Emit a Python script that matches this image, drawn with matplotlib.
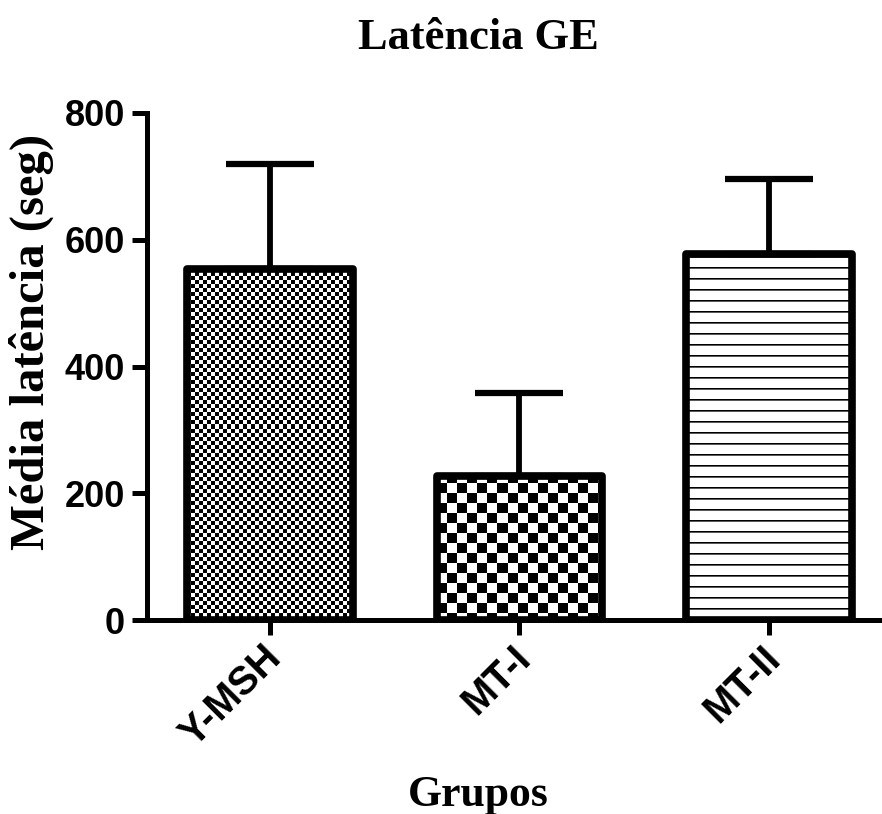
import matplotlib
matplotlib.use("Agg")
import matplotlib.pyplot as plt
from matplotlib.transforms import ScaledTranslation
import numpy as np

groups = ["Y-MSH", "MT-I", "MT-II"]
means = [554, 227, 577]
sem = [165, 131, 119]
yticks = [0, 200, 400, 600, 800]

SERIF = "Liberation Serif"
SANS = "Liberation Sans"


def checker(h, w, size):
    rows = (np.arange(h) // size)[:, None]
    cols = (np.arange(w) // size)[None, :]
    return ((rows + cols) % 2).astype(float)


def stripes(h, w, period):
    rows = np.arange(h) % period
    img = np.ones((h, w))
    img[rows == 0, :] = 0.0
    img[rows == 1, :] = 0.35
    return img


fig = plt.figure(figsize=(8.82, 8.14), dpi=100)
ax = fig.add_axes([0.1667, 0.2383, 0.831, 0.6229])

x = np.arange(len(groups))
ax.set_xlim(-0.493, 2.445)
ax.set_ylim(0, 800)

bars = ax.bar(x, means, width=0.665, facecolor="none", edgecolor="black",
              linewidth=5.5, joinstyle="round", zorder=3)

# fill textures, one image per bar clipped to its rectangle
bb = ax.get_window_extent()
h, w = int(round(bb.height)), int(round(bb.width))
textures = [checker(h, w, 4), checker(h, w, 10), stripes(h, w, 11)]
for bar, tex in zip(bars, textures):
    im = ax.imshow(tex, cmap="gray", vmin=0, vmax=1, interpolation="nearest",
                   extent=(*ax.get_xlim(), *ax.get_ylim()), aspect="auto",
                   origin="upper", zorder=2)
    im.set_clip_path(bar)

ax.errorbar(x, means, yerr=[np.zeros(len(sem)), sem], fmt="none",
            ecolor="black", elinewidth=4.2, capsize=32, capthick=4.5, zorder=4)

for side in ("top", "right"):
    ax.spines[side].set_visible(False)
for side in ("left", "bottom"):
    ax.spines[side].set_linewidth(3.6)

ax.set_yticks(yticks)
ax.set_xticks(x)
ax.set_xticklabels(groups, rotation=45, ha="right", va="center",
                   rotation_mode="anchor")
ax.tick_params(axis="both", length=11, width=3.6, direction="out", pad=5)
ax.tick_params(axis="x", pad=12)
for lab in ax.get_xticklabels():
    lab.set_fontsize(28.5)
    lab.set_transform(lab.get_transform()
                      + ScaledTranslation(0.05, 0, fig.dpi_scale_trans))
for lab in ax.get_yticklabels():
    lab.set_fontsize(26)
for lab in ax.get_xticklabels() + ax.get_yticklabels():
    lab.set_fontfamily(SANS)
    lab.set_fontweight("bold")

fig.text(31 / 882, 1 - 342 / 814, "Média latência (seg)", fontfamily=SERIF,
         fontweight="bold", fontsize=35, rotation=90, ha="center", va="center")
fig.text(478 / 882, 1 - 38 / 814, "Latência GE", fontfamily=SERIF,
         fontweight="bold", fontsize=32, ha="center", va="center")
fig.text(478 / 882, 1 - 795 / 814, "Grupos", fontfamily=SERIF,
         fontweight="bold", fontsize=31.5, ha="center", va="center")

fig.savefig("out.png", dpi=100)
